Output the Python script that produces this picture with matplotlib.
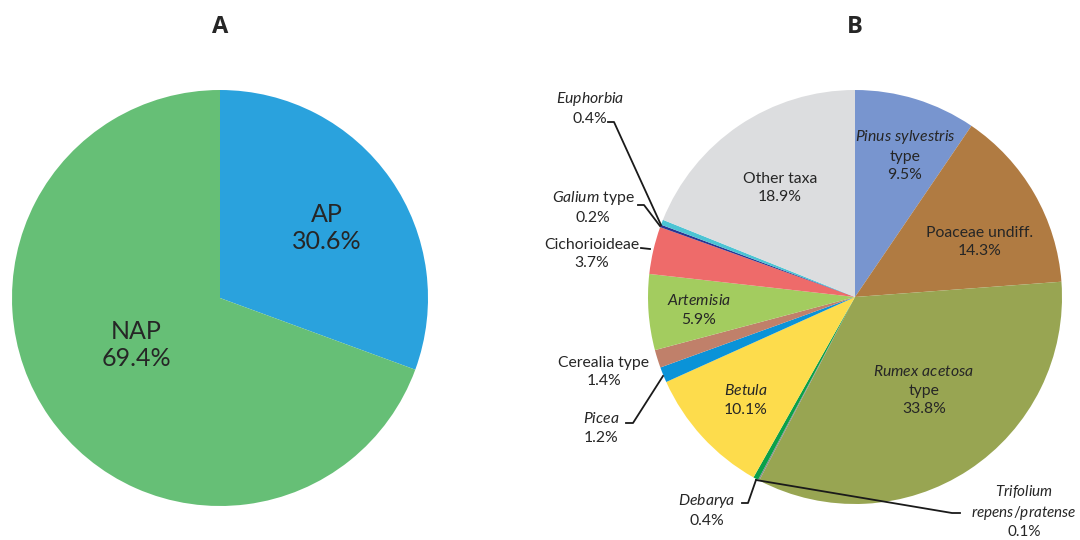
import matplotlib.pyplot as plt

plt.rcParams['font.family'] = ['Lato', 'DejaVu Sans']
plt.rcParams['mathtext.fontset'] = 'custom'
plt.rcParams['mathtext.rm'] = 'Lato'
plt.rcParams['mathtext.it'] = 'Lato:italic'

# panel A
groups = ['AP', 'NAP']
group_pct = [30.6, 69.4]
group_colors = ['#2aa2dd', '#66bf76']

# panel B, clockwise from 12 o'clock
taxa = ['Pinus sylvestris type', 'Poaceae undiff.', 'Rumex acetosa type',
        'Trifolium repens/pratense', 'Debarya', 'Betula', 'Picea',
        'Cerealia type', 'Artemisia', 'Cichorioideae', 'Galium type',
        'Euphorbia', 'Other taxa']
taxa_pct = [9.5, 14.3, 33.8, 0.1, 0.4, 10.1, 1.2, 1.4, 5.9, 3.7, 0.2, 0.4, 18.9]
taxa_colors = ['#7895cf', '#b07b42', '#98a552', '#8a8a8a', '#0ba04a', '#fddc4c',
               '#0a93d8', '#c0806a', '#a3cc5f', '#ee6b6a', '#2b3592', '#4cc4d4',
               '#dcdddf']

H = 540
def Y(y):
    return H - y

fig = plt.figure(figsize=(10.8, 5.4), dpi=100)
ax = fig.add_axes([0, 0, 1, 1])
ax.set_xlim(0, 1080)
ax.set_ylim(0, H)
ax.set_aspect('equal')
ax.axis('off')

ax.pie(group_pct, colors=group_colors, startangle=90, counterclock=False,
       center=(220, Y(298)), radius=208, wedgeprops=dict(linewidth=0))
ax.pie(taxa_pct, colors=taxa_colors, startangle=90, counterclock=False,
       center=(855, Y(297)), radius=207, wedgeprops=dict(linewidth=0))
ax.set_xlim(0, 1080)
ax.set_ylim(0, H)

txt = '#262626'
title = dict(ha='center', va='center', fontsize=17, fontweight='bold', color=txt,
             family=['Open Sans', 'DejaVu Sans'])
ax.text(220, Y(27), 'A', **title)
ax.text(855, Y(27), 'B', **title)

big = dict(ha='center', va='center', fontsize=18, color=txt, linespacing=1.2)
ax.text(327, Y(228), f'{groups[0]}\n{group_pct[0]}%', **big)
ax.text(136, Y(345), f'{groups[1]}\n{group_pct[1]}%', **big)

sm = dict(ha='center', va='center', fontsize=11.3, color=txt, linespacing=1.4)
ax.text(905, Y(155), '$\\mathit{Pinus\\ sylvestris}$\ntype\n%.1f%%' % taxa_pct[0], **sm)
ax.text(980, Y(242), 'Poaceae undiff.\n%.1f%%' % taxa_pct[1], **sm)
ax.text(924, Y(390), '$\\mathit{Rumex\\ acetosa}$\ntype\n%.1f%%' % taxa_pct[2], **sm)
ax.text(1024, Y(511), '$\\mathit{Trifolium}$\n$\\mathit{repens/pratense}$\n%.1f%%' % taxa_pct[3],
        ha='center', va='center', fontsize=11, color=txt, linespacing=1.3)
ax.text(707, Y(510), '$\\mathit{Debarya}$\n%.1f%%' % taxa_pct[4], **sm)
ax.text(746, Y(400), '$\\mathit{Betula}$\n%.1f%%' % taxa_pct[5], **sm)
ax.text(601, Y(428), '$\\mathit{Picea}$\n%.1f%%' % taxa_pct[6], **sm)
ax.text(604, Y(372), 'Cerealia type\n%.1f%%' % taxa_pct[7], **sm)
ax.text(699, Y(310), '$\\mathit{Artemisia}$\n%.1f%%' % taxa_pct[8], **sm)
ax.text(592, Y(254), 'Cichorioideae\n%.1f%%' % taxa_pct[9], **sm)
ax.text(593, Y(207), '$\\mathit{Galium}$ type\n%.1f%%' % taxa_pct[10], **sm)
ax.text(590, Y(108), '$\\mathit{Euphorbia}$\n%.1f%%' % taxa_pct[11], **sm)
ax.text(780, Y(188), 'Other taxa\n%.1f%%' % taxa_pct[12], **sm)

# leader lines
leaders = [
    [(608, 122), (614, 122), (661, 225)],
    [(638, 205), (644, 205), (660, 226)],
    [(641, 248), (650, 249)],
    [(626, 423), (633, 423), (663, 376)],
    [(742, 503), (748, 503), (756, 480)],
    [(756, 480), (952, 513), (960, 513)],
]
for pts in leaders:
    ax.plot([p[0] for p in pts], [Y(p[1]) for p in pts], color='#1a1a1a', lw=1.3)

fig.savefig('out.png', dpi=100)
